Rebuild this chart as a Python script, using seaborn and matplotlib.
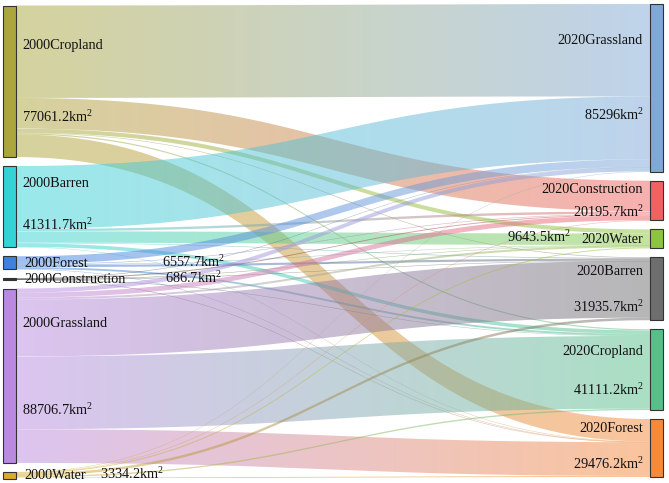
import numpy as np
import matplotlib
matplotlib.use("Agg")
import matplotlib.pyplot as plt
from matplotlib.path import Path
from matplotlib.patches import PathPatch, Rectangle
from matplotlib.colors import to_rgb
import seaborn as sns

# land use 2000 (left) -> 2020 (right), km2
src_names = ["2000Cropland", "2000Barren", "2000Forest", "2000Construction", "2000Grassland", "2000Water"]
src_values = [77061.2, 41311.7, 6557.7, 686.7, 88706.7, 3334.2]
src_colors = ["#aba63b", "#33d3d6", "#3f80e0", "#333333", "#b98ae0", "#d9ab2c"]

tgt_names = ["2020Grassland", "2020Construction", "2020Water", "2020Barren", "2020Cropland", "2020Forest"]
tgt_values = [85296, 20195.7, 9643.5, 31935.7, 41111.2, 29476.2]
tgt_colors = ["#7fa8d8", "#f06262", "#8cc63f", "#6e6e6e", "#55c08a", "#f58a3a"]

# rows = 2000 classes, columns = 2020 classes
flows = [
    [47000, 15600, 2100, 300, 600, 11461.2],
    [32000, 1200, 5800, 300, 1800, 211.7],
    [3900, 300, 200, 1100, 957.7, 100],
    [100, 486.7, 20, 30, 30, 20],
    [2096, 2509, 1023.4, 28905.7, 37023.5, 17149.1],
    [200, 100, 500, 1300, 700, 534.2],
]

sns.set_theme(style="white")
plt.rcParams['font.family'] = ['Liberation Serif', 'DejaVu Serif']
plt.rcParams['mathtext.fontset'] = 'custom'
plt.rcParams['mathtext.rm'] = 'Liberation Serif'
plt.rcParams['mathtext.it'] = 'Liberation Serif'

W, H = 669, 483
fig = plt.figure(figsize=(W / 100, H / 100), dpi=100)
ax = fig.add_axes([0, 0, 1, 1])

gap = 9
total = sum(src_values)
k = (473 - 5 * gap) / total
xl0, xl1 = 3, 16
xr0, xr1 = 650, 663


def layout(values, top):
    ys = []
    y = top
    for v in values:
        ys.append(y)
        y += v * k + gap
    return ys


src_y = layout(src_values, 5.5)
tgt_y = layout(tgt_values, 4.0)


def band(ax, x0, x1, y0, y1, h, c0, c1, alpha=0.5):
    t = np.linspace(0, 1, 80)
    xm = (x0 + x1) / 2
    bx = (1 - t) ** 3 * x0 + 3 * (1 - t) ** 2 * t * xm + 3 * (1 - t) * t ** 2 * xm + t ** 3 * x1
    by = (1 - t) ** 3 * y0 + 3 * (1 - t) ** 2 * t * y0 + 3 * (1 - t) * t ** 2 * y1 + t ** 3 * y1
    h = max(h, 0.5)
    verts = np.vstack([np.column_stack([bx, by]),
                       np.column_stack([bx[::-1], by[::-1] + h]),
                       [[bx[0], by[0]]]])
    patch = PathPatch(Path(verts), facecolor="none", edgecolor="none")
    ax.add_patch(patch)
    a, b = np.array(to_rgb(c0)), np.array(to_rgb(c1))
    s = np.linspace(0, 1, 256)[:, None]
    grad = np.zeros((1, 256, 4))
    grad[0, :, :3] = a * (1 - s) + b * s
    grad[0, :, 3] = alpha
    im = ax.imshow(grad, extent=[x0, x1, max(y0, y1) + h, min(y0, y1)],
                   aspect="auto", interpolation="bilinear", zorder=1)
    im.set_clip_path(patch)


# links: source side sorted by target order, target side sorted by source order
src_off = list(src_y)
for i in range(len(src_names)):
    for j in range(len(tgt_names)):
        v = flows[i][j]
        h = v * k
        ys = src_off[i]
        src_off[i] += h
        yt = tgt_y[j] + sum(flows[r][j] for r in range(i)) * k
        band(ax, xl1, xr0, ys, yt, h, src_colors[i], tgt_colors[j], alpha=0.5)

# nodes
for y, v, c in zip(src_y, src_values, src_colors):
    ax.add_patch(Rectangle((xl0, y), xl1 - xl0, v * k, facecolor=c, edgecolor="#333333", lw=0.8, zorder=3))
for y, v, c in zip(tgt_y, tgt_values, tgt_colors):
    ax.add_patch(Rectangle((xr0, y), xr1 - xr0, v * k, facecolor=c, edgecolor="#333333", lw=0.8, zorder=3))

fs = 10.3
tc = "#111111"
# single-line labels: x of the value text
left_inline = {"2000Forest": 162, "2000Construction": 165, "2000Water": 100}
right_inline = {"2020Water": 571}
# two-line labels: (name, value) position as fraction of node height
label_frac = {
    "2000Cropland": (0.265, 0.74), "2000Barren": (0.21, 0.74), "2000Grassland": (0.20, 0.70),
    "2020Grassland": (0.22, 0.67), "2020Construction": (0.22, 0.82), "2020Barren": (0.23, 0.81),
    "2020Cropland": (0.27, 0.77), "2020Forest": (0.17, 0.79),
}


def fmt(v):
    return "{:g}km$^2$".format(v)


for name, y, v in zip(src_names, src_y, src_values):
    h = v * k
    if name in left_inline:
        yc = y + h / 2 + 0.5
        ax.text(xl1 + 8, yc, name, fontsize=fs, color=tc, va="center", ha="left", zorder=4)
        ax.text(left_inline[name], yc - 1.5, fmt(v), fontsize=fs, color=tc, va="center", ha="left", zorder=4)
    else:
        f1, f2 = label_frac[name]
        ax.text(xl1 + 6, y + f1 * h, name, fontsize=fs, color=tc, va="center", ha="left", zorder=4)
        ax.text(xl1 + 6, y + f2 * h - 1, fmt(v), fontsize=fs, color=tc, va="center", ha="left", zorder=4)

for name, y, v in zip(tgt_names, tgt_y, tgt_values):
    h = v * k
    if name in right_inline:
        yc = y + h / 2 + 1
        ax.text(xr0 - 7, yc, name, fontsize=fs, color=tc, va="center", ha="right", zorder=4)
        ax.text(right_inline[name], yc - 2.5, fmt(v), fontsize=fs, color=tc, va="center", ha="right", zorder=4)
    else:
        f1, f2 = label_frac[name]
        ax.text(xr0 - 7, y + f1 * h, name, fontsize=fs, color=tc, va="center", ha="right", zorder=4)
        ax.text(xr0 - 6, y + f2 * h - 1, fmt(v), fontsize=fs, color=tc, va="center", ha="right", zorder=4)

ax.set_xlim(0, W)
ax.set_ylim(H, 0)
ax.axis("off")
fig.savefig("out.png", dpi=100)
